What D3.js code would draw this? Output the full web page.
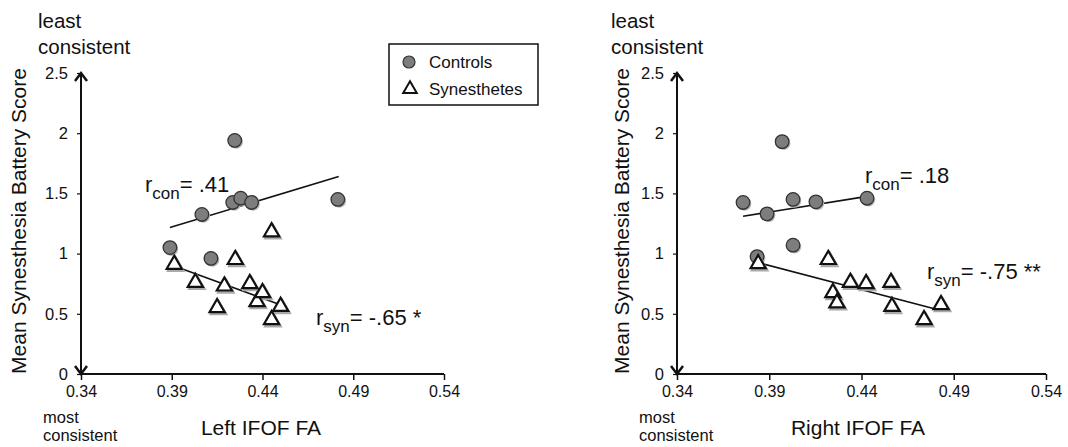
<!DOCTYPE html>
<html>
<head>
<meta charset="utf-8">
<script src="https://cdn.jsdelivr.net/npm/d3@7"></script>
<style>
  body { margin: 0; background: #fff; }
  svg text { font-family: "Liberation Sans", Arial, sans-serif; fill: #111; }
</style>
</head>
<body>
<div id="chart"></div>
<script>
// tick values
var xTicks = [0.34, 0.39, 0.44, 0.49, 0.54];
var yTicks = [0, 0.5, 1, 1.5, 2, 2.5];

// Left IFOF FA
var leftConX = [0.389, 0.4066, 0.4116, 0.4236, 0.4247, 0.428, 0.434, 0.4815];
var leftConY = [1.05, 1.325, 0.96, 1.425, 1.94, 1.46, 1.425, 1.45];
var leftSynX = [0.3914, 0.403, 0.415, 0.419, 0.425, 0.433, 0.437, 0.440, 0.445, 0.445, 0.450];
var leftSynY = [0.91, 0.76, 0.55, 0.73, 0.95, 0.75, 0.60, 0.675, 1.18, 0.45, 0.56];
var leftConFit = [[0.389, 1.217], [0.482, 1.64]];
var leftSynFit = [[0.3925, 0.89], [0.4498, 0.575]];

// Right IFOF FA
var rightConX = [0.3758, 0.3834, 0.3888, 0.397, 0.4029, 0.4029, 0.4153, 0.443];
var rightConY = [1.425, 0.975, 1.33, 1.93, 1.45, 1.07, 1.43, 1.46];
var rightSynX = [0.384, 0.422, 0.4245, 0.4267, 0.434, 0.4425, 0.456, 0.4565, 0.4739, 0.4831];
var rightSynY = [0.915, 0.95, 0.675, 0.59, 0.76, 0.75, 0.76, 0.56, 0.45, 0.575];
var rightConFit = [[0.3758, 1.31], [0.443, 1.475]];
var rightSynFit = [[0.384, 0.925], [0.480, 0.54]];

var svg = d3.select("#chart").append("svg")
  .attr("width", 1068)
  .attr("height", 447);

function zip(xs, ys) {
  return xs.map(function(d, i) { return [d, ys[i]]; });
}

function panel(opt) {
  var x = d3.scaleLinear().domain([0.34, 0.54]).range([opt.left, opt.right]);
  var y = d3.scaleLinear().domain([0, 2.5]).range([374, 73]);
  var g = svg.append("g");

  // x axis
  var xa = g.append("g")
    .attr("transform", "translate(0,374)")
    .call(d3.axisBottom(x).tickValues(xTicks).tickFormat(d3.format(".2f")).tickSize(6).tickSizeOuter(0).tickPadding(6));
  xa.select(".domain").remove();
  xa.selectAll("line").attr("stroke", "#111").attr("stroke-width", 1.5);
  xa.selectAll("text").style("font-size", "16px").attr("fill", "#222");
  g.append("line")
    .attr("x1", x(0.34)).attr("x2", x(0.54))
    .attr("y1", 374).attr("y2", 374)
    .attr("stroke", "#111").attr("stroke-width", 2);

  // y axis
  var ya = g.append("g")
    .attr("transform", "translate(" + x(0.34) + ",0)")
    .call(d3.axisLeft(y).tickValues(yTicks).tickFormat(d3.format("")).tickSize(4).tickSizeOuter(0).tickPadding(9));
  ya.select(".domain").remove();
  ya.selectAll("line").attr("stroke", "#111").attr("stroke-width", 1.2);
  ya.selectAll("text").style("font-size", "16.5px").attr("fill", "#222");
  g.append("line")
    .attr("x1", x(0.34)).attr("x2", x(0.34))
    .attr("y1", y(0)).attr("y2", y(2.5))
    .attr("stroke", "#111").attr("stroke-width", 2);

  // arrow heads
  var ax = x(0.34);
  g.append("path")
    .attr("d", "M" + (ax - 6) + "," + (y(2.5) + 8) + "L" + ax + "," + y(2.5) + "L" + (ax + 6) + "," + (y(2.5) + 8))
    .attr("fill", "none").attr("stroke", "#111").attr("stroke-width", 2.5);
  g.append("path")
    .attr("d", "M" + (ax - 6) + "," + (y(0) - 8) + "L" + ax + "," + y(0) + "L" + (ax + 6) + "," + (y(0) - 8))
    .attr("fill", "none").attr("stroke", "#111").attr("stroke-width", 2.5);

  // axis texts
  g.append("text").attr("x", opt.leastX).attr("y", 28).style("font-size", "20.5px").text("least");
  g.append("text").attr("x", opt.leastX).attr("y", 54).style("font-size", "20.5px").text("consistent");
  g.append("text").attr("x", opt.mostX).attr("y", 423).style("font-size", "16.5px").text("most");
  g.append("text").attr("x", opt.mostX).attr("y", 441).style("font-size", "16.5px").text("consistent");
  g.append("text")
    .attr("transform", "translate(" + opt.titleYX + ",221) rotate(-90)")
    .attr("text-anchor", "middle").attr("dy", "0.35em")
    .style("font-size", "21px")
    .text("Mean Synesthesia Battery Score");
  g.append("text")
    .attr("x", opt.titleXX).attr("y", 435)
    .attr("text-anchor", "middle")
    .style("font-size", "21px")
    .text(opt.xTitle);

  // fit lines
  var line = d3.line().x(function(d) { return x(d[0]); }).y(function(d) { return y(d[1]); });
  g.append("path").attr("d", line(opt.conFit)).attr("stroke", "#111").attr("stroke-width", 1.6).attr("fill", "none");
  g.append("path").attr("d", line(opt.synFit)).attr("stroke", "#111").attr("stroke-width", 1.6).attr("fill", "none");

  // controls
  var con = zip(opt.conX, opt.conY);
  g.selectAll(".conShadow").data(con).enter().append("circle")
    .attr("cx", function(d) { return x(d[0]) + 1.5; })
    .attr("cy", function(d) { return y(d[1]) + 1.5; })
    .attr("r", 6.8).attr("fill", "#bbb");
  g.selectAll(".con").data(con).enter().append("circle")
    .attr("cx", function(d) { return x(d[0]); })
    .attr("cy", function(d) { return y(d[1]); })
    .attr("r", 6.8).attr("fill", "#7d7d7d").attr("stroke", "#333").attr("stroke-width", 1.3);

  // synesthetes
  var tri = d3.symbol().type(d3.symbolTriangle).size(100);
  var syn = zip(opt.synX, opt.synY);
  g.selectAll(".synShadow").data(syn).enter().append("path")
    .attr("d", tri)
    .attr("transform", function(d) { return "translate(" + (x(d[0]) + 1.5) + "," + (y(d[1]) + 2) + ")"; })
    .attr("fill", "none").attr("stroke", "#aaa").attr("stroke-width", 2.4);
  g.selectAll(".syn").data(syn).enter().append("path")
    .attr("d", tri)
    .attr("transform", function(d) { return "translate(" + x(d[0]) + "," + y(d[1]) + ")"; })
    .attr("fill", "#fff").attr("stroke", "#111").attr("stroke-width", 2.2);

  // r labels
  function rLabel(px, py, sub, val) {
    var t = g.append("text").attr("x", px).attr("y", py).style("font-size", "22px");
    t.append("tspan").text("r");
    t.append("tspan").attr("dy", 7).style("font-size", "17px").text(sub);
    t.append("tspan").attr("dy", -7).text("= " + val);
  }
  rLabel(opt.conLab[0], opt.conLab[1], "con", opt.conR);
  rLabel(opt.synLab[0], opt.synLab[1], "syn", opt.synR);
}

panel({
  left: 81, right: 444, leastX: 38, mostX: 43, titleYX: 19, titleXX: 261,
  xTitle: "Left IFOF FA",
  conX: leftConX, conY: leftConY, synX: leftSynX, synY: leftSynY,
  conFit: leftConFit, synFit: leftSynFit,
  conLab: [145, 192], synLab: [316, 325], conR: ".41", synR: "-.65 *"
});

panel({
  left: 677, right: 1046, leastX: 611, mostX: 639, titleYX: 622, titleXX: 858,
  xTitle: "Right IFOF FA",
  conX: rightConX, conY: rightConY, synX: rightSynX, synY: rightSynY,
  conFit: rightConFit, synFit: rightSynFit,
  conLab: [865, 183], synLab: [927, 279], conR: ".18", synR: "-.75 **"
});

// legend
var lg = svg.append("g");
lg.append("rect").attr("x", 389).attr("y", 44).attr("width", 149).attr("height", 61)
  .attr("fill", "#fff").attr("stroke", "#111").attr("stroke-width", 1.5);
lg.append("circle").attr("cx", 409).attr("cy", 62).attr("r", 6)
  .attr("fill", "#7d7d7d").attr("stroke", "#333").attr("stroke-width", 1.2);
lg.append("path").attr("d", d3.symbol().type(d3.symbolTriangle).size(80))
  .attr("transform", "translate(410,89)")
  .attr("fill", "#fff").attr("stroke", "#111").attr("stroke-width", 2);
lg.append("text").attr("x", 429).attr("y", 68).style("font-size", "17px").text("Controls");
lg.append("text").attr("x", 429).attr("y", 95).style("font-size", "17px").text("Synesthetes");
</script>
</body>
</html>
